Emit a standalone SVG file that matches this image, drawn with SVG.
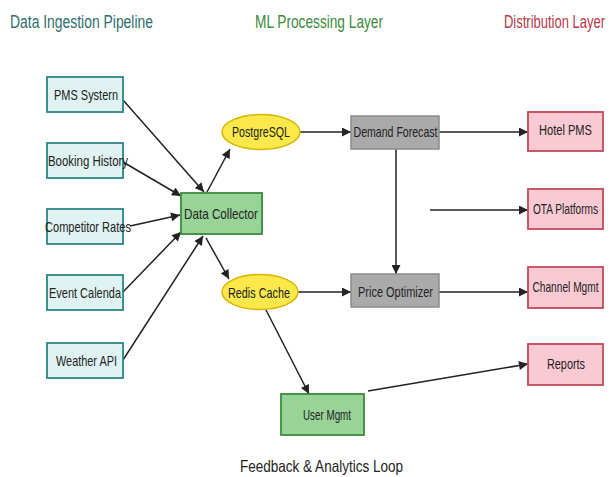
<svg xmlns="http://www.w3.org/2000/svg" width="613" height="477" viewBox="0 0 613 477">
<style>
text{font-family:"Liberation Sans",Arial,sans-serif;font-size:15px;fill:#222;text-anchor:middle}
.title{font-size:17.5px;text-anchor:start}
.src rect{fill:#dff3f3;stroke:#2e8686;stroke-width:1.8}
.green rect{fill:#98d498;stroke:#3a8a3a;stroke-width:1.8}
.yel ellipse{fill:#fbe84a;stroke:#d9b400;stroke-width:1.5}
.gray rect{fill:#aaaaaa;stroke:#8a8a8a;stroke-width:1.5}
.pink rect{fill:#f9cad3;stroke:#c24a5a;stroke-width:1.8}
#connectors line{stroke:#222;stroke-width:1.5;marker-end:url(#ah)}
</style>
<defs>
<marker id="ah" viewBox="0 0 10 10" refX="10" refY="5" markerWidth="10" markerHeight="9" markerUnits="userSpaceOnUse" orient="auto">
<path d="M0,0 L10,5 L0,10 z" fill="#222"/>
</marker>
</defs>
<rect width="613" height="477" fill="#ffffff"/>
<text class="title" x="10" y="28" textLength="143" lengthAdjust="spacingAndGlyphs" style="fill:#2f6e6e">Data Ingestion Pipeline</text>
<text class="title" x="255" y="28" textLength="128" lengthAdjust="spacingAndGlyphs" style="fill:#3c8a3c">ML Processing Layer</text>
<text class="title" x="504" y="28" textLength="101" lengthAdjust="spacingAndGlyphs" style="fill:#b8384a">Distribution Layer</text>

<g id="connectors">
<line x1="123" y1="100" x2="204" y2="192"/>
<line x1="123" y1="162" x2="181" y2="196"/>
<line x1="130" y1="226" x2="180" y2="215"/>
<line x1="123" y1="292" x2="181" y2="232"/>
<line x1="123" y1="360" x2="203" y2="236"/>
<line x1="207" y1="192" x2="230" y2="149"/>
<line x1="206" y1="238" x2="229" y2="279"/>
<line x1="300" y1="132" x2="351" y2="132"/>
<line x1="439" y1="132" x2="528" y2="132"/>
<line x1="396" y1="149" x2="396" y2="274"/>
<line x1="430" y1="210" x2="528" y2="210"/>
<line x1="298" y1="292" x2="351" y2="292"/>
<line x1="439" y1="292" x2="528" y2="292"/>
<line x1="266" y1="310" x2="309" y2="394"/>
<line x1="368" y1="391" x2="528" y2="364"/>
</g>

<g id="pms-system" class="src"><rect x="47" y="77" width="76" height="35"/><text x="86" y="100" textLength="64" lengthAdjust="spacingAndGlyphs">PMS Systern</text></g>
<g id="booking-history" class="src"><rect x="47" y="143" width="76" height="35"/><text x="88" y="166" textLength="80" lengthAdjust="spacingAndGlyphs">Booking History</text></g>
<g id="competitor-rates" class="src"><rect x="47" y="209" width="76" height="35"/><text x="88" y="232" textLength="86" lengthAdjust="spacingAndGlyphs">Competitor Rates</text></g>
<g id="event-calendar" class="src"><rect x="47" y="275" width="76" height="35"/><text x="85" y="298" textLength="72" lengthAdjust="spacingAndGlyphs">Event Calenda</text></g>
<g id="weather-api" class="src"><rect x="47" y="343" width="76" height="35"/><text x="86.5" y="366" textLength="61" lengthAdjust="spacingAndGlyphs">Weather API</text></g>

<g id="data-collector" class="green"><rect x="181" y="193" width="81" height="41"/><text x="221" y="219" textLength="74" lengthAdjust="spacingAndGlyphs">Data Collector</text></g>
<g id="postgresql" class="yel"><ellipse cx="261" cy="132" rx="39" ry="17.5"/><text x="261" y="137" textLength="58" lengthAdjust="spacingAndGlyphs">PostgreSQL</text></g>
<g id="redis-cache" class="yel"><ellipse cx="260" cy="292" rx="38" ry="17.5"/><text x="259" y="298" textLength="62" lengthAdjust="spacingAndGlyphs">Redis Cache</text></g>
<g id="demand-forecast" class="gray"><rect x="351" y="116" width="88" height="33"/><text x="395.5" y="137" textLength="84" lengthAdjust="spacingAndGlyphs">Demand Forecast</text></g>
<g id="price-optimizer" class="gray"><rect x="351" y="274" width="88" height="33"/><text x="395.5" y="297" textLength="75" lengthAdjust="spacingAndGlyphs">Price Optimizer</text></g>
<g id="user-mgmt" class="green"><rect x="281" y="394" width="83" height="41"/><text x="327" y="420" textLength="48" lengthAdjust="spacingAndGlyphs">User Mgmt</text></g>

<g id="hotel-pms" class="pink"><rect x="528" y="112" width="75" height="39"/><text x="565.5" y="135" textLength="53" lengthAdjust="spacingAndGlyphs">Hotel PMS</text></g>
<g id="ota-platforms" class="pink"><rect x="528" y="189" width="75" height="40"/><text x="565.5" y="214" textLength="65" lengthAdjust="spacingAndGlyphs">OTA Platforms</text></g>
<g id="channel-mgmt" class="pink"><rect x="528" y="267" width="75" height="41"/><text x="565.5" y="292" textLength="66" lengthAdjust="spacingAndGlyphs">Channel Mgmt</text></g>
<g id="reports" class="pink"><rect x="528" y="344" width="75" height="41"/><text x="566" y="369" textLength="38" lengthAdjust="spacingAndGlyphs">Reports</text></g>

<text x="321.5" y="472" style="font-size:16.5px" textLength="163" lengthAdjust="spacingAndGlyphs">Feedback &amp; Analytics Loop</text>
</svg>
